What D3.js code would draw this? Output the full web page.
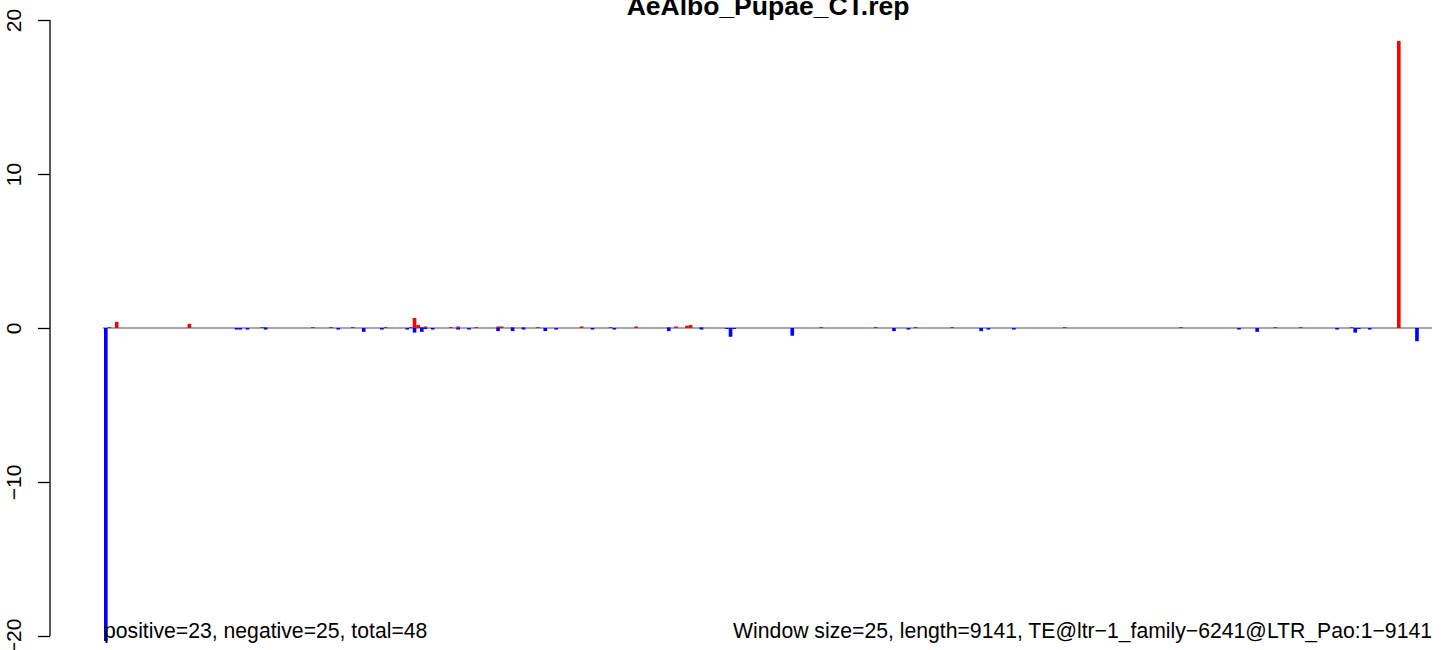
<!DOCTYPE html>
<html><head><meta charset="utf-8">
<script src="https://cdn.jsdelivr.net/npm/d3@7"></script>
<style>html,body{margin:0;padding:0;background:#fff;}svg{display:block;font-family:"Liberation Sans",Arial,sans-serif;}</style>
</head><body>
<script>
const title = "AeAlbo_Pupae_CT.rep";
const windowSize = 25;
const seqLength = 9141;
const leftNote = "positive=23, negative=25, total=48";
const rightNote = "Window size=25, length=9141, TE@ltr\u22121_family\u22126241@LTR_Pao:1\u22129141";
const yTicks = [-20, -10, 0, 10, 20];
// window index and value, positive strand
const posWindows = [1,3,23,43,44,57,62,68,77,84,85,86,87,88,95,97,102,108,109,112,115,119,131,139,146,155,157,160,161,164,197,212,223,233,264,296,322,329,343,356];
const posValues  = [0.06,0.4,0.27,0.06,0.06,0.06,0.06,0.06,0.06,0.06,0.65,0.2,0.06,0.1,0.06,0.1,0.06,0.1,0.1,0.06,0.06,0.06,0.1,0.06,0.1,0.06,0.1,0.15,0.2,0.06,0.06,0.06,0.06,0.06,0.06,0.06,0.06,0.06,0.06,18.64];
// negative strand
const negWindows = [0,36,37,39,44,64,71,76,83,85,87,88,90,97,100,108,112,115,121,124,134,140,155,164,171,172,173,189,217,221,241,243,250,312,317,339,344,345,348,361];
const negValues  = [-20.8,-0.1,-0.1,-0.1,-0.1,-0.1,-0.25,-0.1,-0.1,-0.3,-0.25,-0.06,-0.1,-0.1,-0.1,-0.2,-0.2,-0.1,-0.2,-0.1,-0.1,-0.1,-0.2,-0.1,-0.06,-0.57,-0.06,-0.5,-0.2,-0.1,-0.2,-0.1,-0.1,-0.1,-0.25,-0.1,-0.3,-0.06,-0.1,-0.86];

const W = 1444, H = 650;
const svg = d3.select("body").append("svg").attr("width", W).attr("height", H);
const x = d3.scaleLinear().domain([0, seqLength]).range([104, 1432]);
const y = d3.scaleLinear().domain([-20, 20]).range([636, 20]);

svg.append("defs").append("clipPath").attr("id","clip")
  .append("rect").attr("x", 0).attr("y", 0).attr("width", W).attr("height", 641);

// zero line
svg.append("line").attr("x1", x(0) - 1).attr("x2", x(seqLength)).attr("y1", y(0)).attr("y2", y(0))
  .attr("stroke", "#8a8a8a").attr("stroke-width", 1.5);

const g = svg.append("g").attr("clip-path", "url(#clip)");
const pos = posWindows.map((w, i) => ({w, v: posValues[i]}));
const neg = negWindows.map((w, i) => ({w, v: negValues[i]}));
const bw = x(windowSize) - x(0);
g.selectAll("rect.pos").data(pos).join("rect").attr("class","pos")
  .attr("x", d => x(d.w * windowSize)).attr("width", bw)
  .attr("y", d => y(d.v)).attr("height", d => y(0) - y(d.v)).attr("fill", "#ff0000");
g.selectAll("rect.neg").data(neg).join("rect").attr("class","neg")
  .attr("x", d => x(d.w * windowSize)).attr("width", bw)
  .attr("y", y(0)).attr("height", d => y(d.v) - y(0)).attr("fill", "#0000ff");

// y axis
const ax = svg.append("g").attr("transform", "translate(50,0)")
  .call(d3.axisLeft(y).tickValues(yTicks).tickSize(12).tickPadding(0).tickFormat(d => d < 0 ? "\u2212" + Math.abs(d) : String(d)));
ax.select(".domain").attr("d", `M0,${y(20)}V${y(-20)}`).attr("stroke", "#000").attr("stroke-width", 1.3);
ax.selectAll(".tick line").attr("stroke", "#000").attr("stroke-width", 1.3);
ax.selectAll(".tick text").attr("x", null).attr("dy", null)
  .attr("transform", "translate(-29,0) rotate(-90)")
  .attr("text-anchor", "middle").attr("fill", "#000").attr("font-size", 21)
  .attr("font-family", "Liberation Sans, Arial, sans-serif");

// title
svg.append("text").attr("x", (x(0) + x(seqLength)) / 2).attr("y", 15)
  .attr("text-anchor", "middle").attr("font-weight", "bold").attr("font-size", 26.5).text(title);

svg.append("text").attr("x", 104).attr("y", 638).attr("font-size", 21.2).text(leftNote);
svg.append("text").attr("x", 1432).attr("y", 638).attr("text-anchor", "end").attr("font-size", 21.2).text(rightNote);
</script>
</body></html>
